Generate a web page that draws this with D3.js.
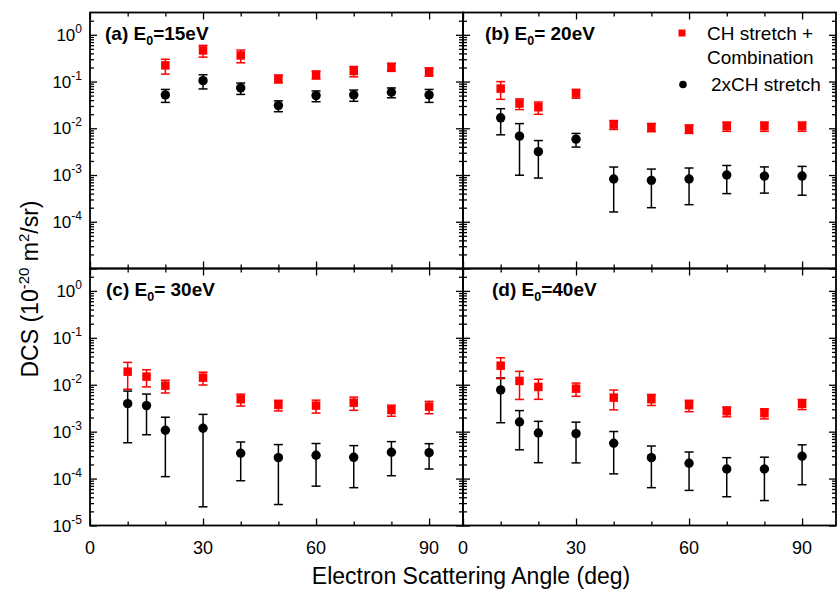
<!DOCTYPE html>
<html><head><meta charset="utf-8">
<script src="https://cdn.jsdelivr.net/npm/d3@7"></script>
<style>body{margin:0;background:#fff} text{font-family:Arial,"Liberation Sans",sans-serif;fill:#000}</style>
</head><body><svg id="c" width="837" height="591"></svg>
<script>
// ---- data ----
const anglesA = [20,30,40,50,60,70,80,90];
const anglesBCD = [10,15,20,30,40,50,60,70,80,90];
const redA = [0.222,0.463,0.362,0.115,0.140,0.168,0.205,0.163];
const redAErr = [0.078,0.13,0.11,0.022,0.027,0.042,0.04,0.033];
const blackA = [0.0518,0.1045,0.073,0.0306,0.050,0.0518,0.0589,0.0518];
const blackAErr = [0.016,0.035,0.020,0.008,0.013,0.014,0.014,0.016];
const redB = [0.0706,0.0338,0.0282,0.056,0.01205,0.01055,0.00976,0.0111,0.0111,0.0111];
const redBErr = [0.029,0.0087,0.0083,0.012,0.0026,0.0021,0.002,0.0025,0.0025,0.0025];
const blackB = [0.01675,0.00679,0.00316,0.00586,0.000822,0.00077,0.000822,0.001,0.00095,0.00095];
const blackBErr = [0.0095,0.0058,0.0023,0.0019,0.00066,0.00057,0.00059,0.0006,0.00054,0.00058];
const redC = [0.019,0.0149,0.00957,0.01417,0.00491,0.00371,0.00359,0.00415,0.0029,0.00341];
const redCErr = [0.011,0.0059,0.0029,0.0043,0.0014,0.00095,0.0011,0.0013,0.00077,0.001];
const blackC = [0.00395,0.00359,0.00107,0.00118,0.000346,0.000279,0.000314,0.000284,0.000364,0.000357];
const blackCErr = [0.00337,0.00273,0.00096,0.001155,0.000256,0.000251,0.000245,0.00022,0.000249,0.000197];
const redD = [0.0255,0.01205,0.00898,0.00826,0.00531,0.00491,0.00366,0.00272,0.00247,0.0039];
const redDErr = [0.012,0.0072,0.0041,0.0026,0.0024,0.0013,0.001,0.00065,0.0006,0.00095];
const blackD = [0.00775,0.00161,0.000938,0.000906,0.000566,0.000279,0.000212,0.00016,0.00016,0.000299];
const blackDErr = [0.0062,0.0012,0.00072,0.00069,0.00044,0.000215,0.000156,0.000119,0.000126,0.000225];

const xMajor = [0,30,60,90];
const xMinor = [10,20,40,50,70,80];
const yExpTop = [0,-1,-2,-3,-4];
const yExpBottom = [0,-1,-2,-3,-4,-5];
const legendLabels = [["CH stretch +","Combination"],["2xCH stretch"]];

const panels = [
  {pre:"(a) E", post:"=15eV", angles:anglesA, red:redA, redErr:redAErr, black:blackA, blackErr:blackAErr, col:0, row:0, lx:105},
  {pre:"(b) E", post:"= 20eV", angles:anglesBCD, red:redB, redErr:redBErr, black:blackB, blackErr:blackBErr, col:1, row:0, lx:485},
  {pre:"(c) E", post:"= 30eV", angles:anglesBCD, red:redC, redErr:redCErr, black:blackC, blackErr:blackCErr, col:0, row:1, lx:106},
  {pre:"(d) E", post:"=40eV", angles:anglesBCD, red:redD, redErr:redDErr, black:blackD, blackErr:blackDErr, col:1, row:1, lx:492}
];

// ---- layout ----
const xR = [[90,463],[463,836]];
const yR = [[268.5,12.5],[525.5,268.5]];
const RED = "#ff0000";

const svg = d3.select("#c");
svg.append("rect").attr("width",837).attr("height",591).attr("fill","#fff");

const yMajorVals = d3.range(-5,1).map(e=>Math.pow(10,e));
const yMinorVals = [];
for (let e=-5;e<=0;e++) for (let k=2;k<=9;k++){ const v=k*Math.pow(10,e); if (v<3) yMinorVals.push(v); }

panels.forEach(p=>{
  const x = d3.scaleLinear().domain([0,99]).range(xR[p.col]);
  const y = d3.scaleLog().domain([1e-5,3]).range(yR[p.row]);
  const g = svg.append("g");
  const [x0,x1] = xR[p.col], [y1,y0] = yR[p.row];

  const addAxis = (gen, tr, vals, len) => {
    const a = g.append("g").attr("transform",tr)
      .call(gen.tickValues(vals).tickSize(-len).tickFormat(""));
    a.select(".domain").remove();
    a.selectAll("line").attr("stroke","#000").attr("stroke-width",1.3);
  };
  addAxis(d3.axisLeft(y), `translate(${x0},0)`, yMajorVals, 7);
  addAxis(d3.axisLeft(y), `translate(${x0},0)`, yMinorVals, 4);
  addAxis(d3.axisRight(y), `translate(${x1},0)`, yMajorVals, 7);
  addAxis(d3.axisRight(y), `translate(${x1},0)`, yMinorVals, 4);
  addAxis(d3.axisBottom(x), `translate(0,${y1})`, xMajor, 7);
  addAxis(d3.axisBottom(x), `translate(0,${y1})`, xMinor, 4);
  addAxis(d3.axisTop(x), `translate(0,${y0})`, xMajor, 7);
  addAxis(d3.axisTop(x), `translate(0,${y0})`, xMinor, 4);

  g.append("rect").attr("x",x0).attr("y",y0).attr("width",x1-x0).attr("height",y1-y0)
    .attr("fill","none").attr("stroke","#000").attr("stroke-width",1.8);

  // error bars
  const drawErr = (vals, errs, color) => {
    const eg = g.append("g").attr("stroke",color).attr("stroke-width",1.5).attr("fill","none");
    vals.forEach((v,i)=>{
      const cx = x(p.angles[i]);
      const yt = y(v+errs[i]), yb = y(v-errs[i]);
      eg.append("line").attr("x1",cx).attr("x2",cx).attr("y1",yt).attr("y2",yb);
      eg.append("line").attr("x1",cx-4.5).attr("x2",cx+4.5).attr("y1",yt).attr("y2",yt);
      eg.append("line").attr("x1",cx-4.5).attr("x2",cx+4.5).attr("y1",yb).attr("y2",yb);
    });
  };
  drawErr(p.black, p.blackErr, "#000");
  drawErr(p.red, p.redErr, RED);

  g.selectAll(".sq").data(p.red).enter().append("rect")
    .attr("x",(d,i)=>x(p.angles[i])-4.25).attr("y",d=>y(d)-4.25)
    .attr("width",8.5).attr("height",8.5).attr("fill",RED);
  g.selectAll(".ci").data(p.black).enter().append("circle")
    .attr("cx",(d,i)=>x(p.angles[i])).attr("cy",d=>y(d)).attr("r",4.7).attr("fill","#000");

  // panel label
  const t = g.append("text").attr("x",p.lx).attr("y",y0+27.5)
    .attr("font-size",19).attr("font-weight","bold");
  t.append("tspan").text(p.pre);
  t.append("tspan").attr("font-size",12.5).attr("dy",5).text("0");
  t.append("tspan").attr("dy",-5).text(p.post);

  // tick labels
  if (p.row===1) {
    xMajor.forEach(v=>{
      g.append("text").attr("x",x(v)).attr("y",554).attr("text-anchor","middle")
        .attr("font-size",18).text(v);
    });
  }
  if (p.col===0) {
    const exps = p.row===0 ? yExpTop : yExpBottom;
    exps.forEach(e=>{
      const tt = g.append("text").attr("x",82).attr("y",y(Math.pow(10,e))+6)
        .attr("text-anchor","end").attr("font-size",17);
      tt.append("tspan").text("10");
      tt.append("tspan").attr("font-size",12).attr("dy",-8).text(e===0?"0":"-"+(-e));
    });
  }
});

// legend
const lg = svg.append("g");
lg.append("rect").attr("x",678.5).attr("y",29.5).attr("width",7).attr("height",7).attr("fill",RED);
lg.append("text").attr("x",707).attr("y",39.5).attr("font-size",19).text(legendLabels[0][0]);
lg.append("text").attr("x",707).attr("y",63.5).attr("font-size",19).text(legendLabels[0][1]);
lg.append("circle").attr("cx",683).attr("cy",84.5).attr("r",3.8).attr("fill","#000");
lg.append("text").attr("x",711).attr("y",91).attr("font-size",19).text(legendLabels[1][0]);

// axis titles
svg.append("text").attr("x",471).attr("y",584).attr("text-anchor","middle")
  .attr("font-size",23).text("Electron Scattering Angle (deg)");
const yt = svg.append("text").attr("transform","translate(38,289) rotate(-90)")
  .attr("text-anchor","middle").attr("font-size",23);
yt.append("tspan").text("DCS (10");
yt.append("tspan").attr("font-size",15).attr("dy",-9).text("-20");
yt.append("tspan").attr("dy",9).text(" m");
yt.append("tspan").attr("font-size",15).attr("dy",-9).text("2");
yt.append("tspan").attr("dy",9).text("/sr)");
</script></body></html>
